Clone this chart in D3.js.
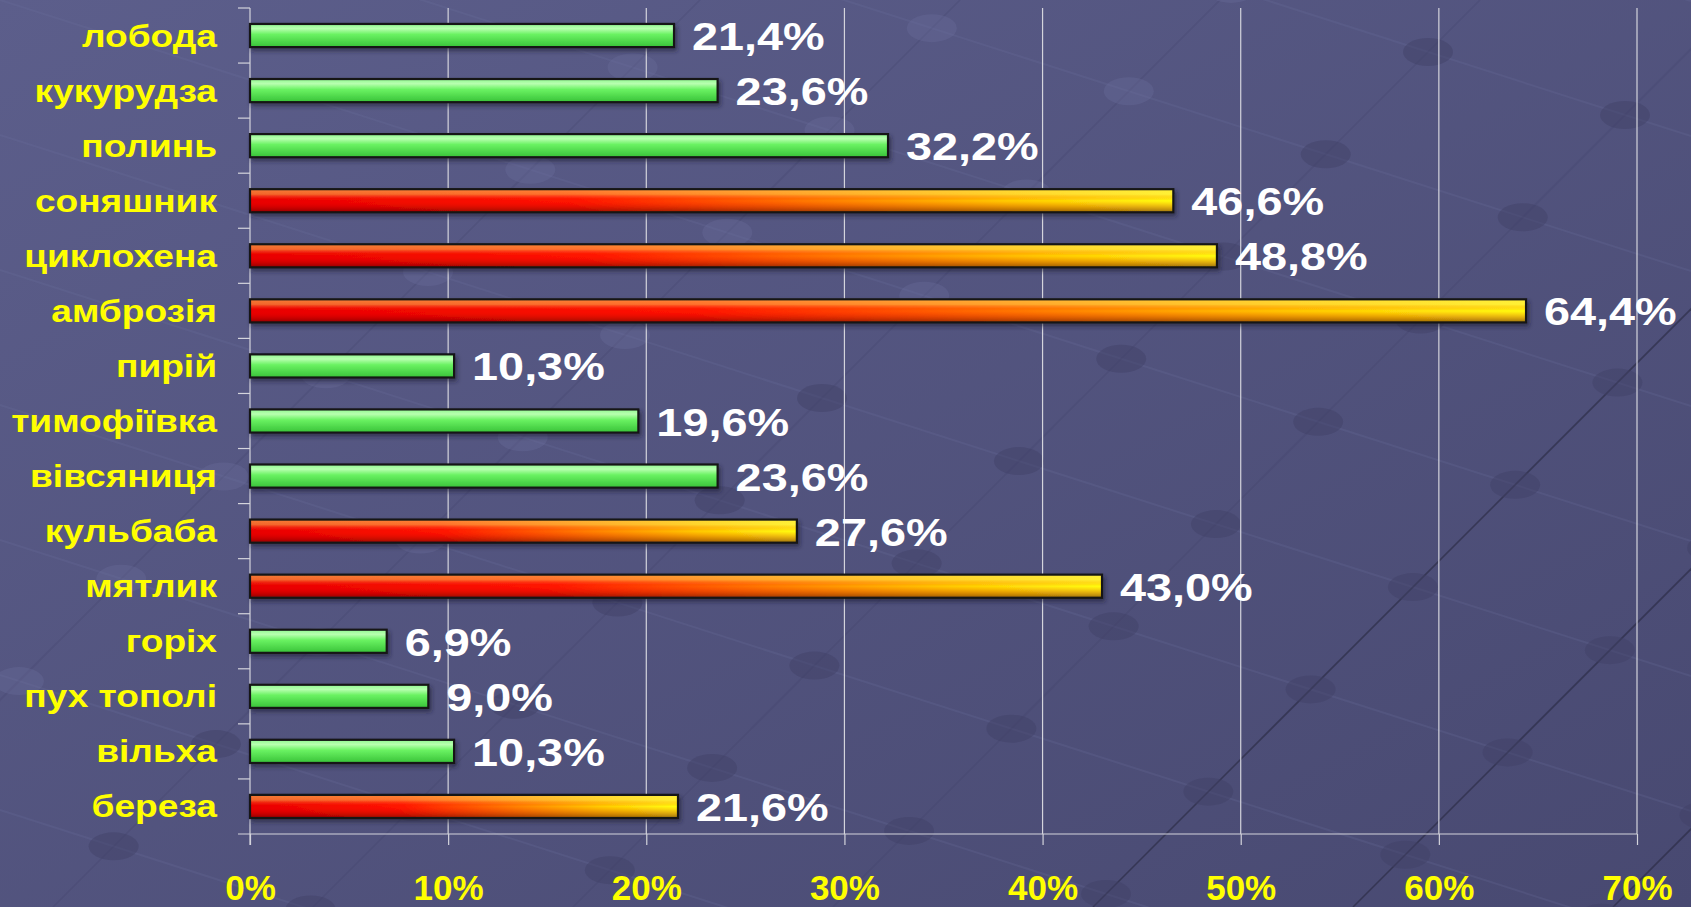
<!DOCTYPE html>
<html>
<head>
<meta charset="utf-8">
<script src="https://cdn.jsdelivr.net/npm/d3@7"></script>
<style>
	html, body { margin: 0; padding: 0; overflow: hidden; background: #55577f; }
	svg { display: block; }
</style>
</head>
<body>
<script>
"use strict";

// chart data, read from top to bottom
var categories = ["лобода", "кукурудза", "полинь", "соняшник", "циклохена", "амброзія", "пирій",
	"тимофіївка", "вівсяниця", "кульбаба", "мятлик", "горіх", "пух тополі", "вільха", "береза"];
var values = [21.4, 23.6, 32.2, 46.6, 48.8, 64.4, 10.3, 19.6, 23.6, 27.6, 43.0, 6.9, 9.0, 10.3, 21.6];
// "hot" bars are drawn red-to-yellow, the rest green
var hot = [false, false, false, true, true, true, false, false, false, true, true, false, false, false, true];
var xTicks = [0, 10, 20, 30, 40, 50, 60, 70];

var W = 1691, H = 907;
var svg = d3.select("body").append("svg")
	.attr("width", W)
	.attr("height", H)
	.style("font-family", "'Liberation Sans', Arial, sans-serif");

var defs = svg.append("defs");

// background
var bg = defs.append("linearGradient").attr("id", "bg")
	.attr("x1", 0).attr("y1", 0).attr("x2", 1).attr("y2", 1);
bg.append("stop").attr("offset", 0).attr("stop-color", "#5c5e8b");
bg.append("stop").attr("offset", 1).attr("stop-color", "#484971");

var green = defs.append("linearGradient").attr("id", "green")
	.attr("x1", 0).attr("y1", 0).attr("x2", 0).attr("y2", 1);
green.append("stop").attr("offset", 0).attr("stop-color", "#90f890");
green.append("stop").attr("offset", 0.2).attr("stop-color", "#b8ffb0");
green.append("stop").attr("offset", 0.45).attr("stop-color", "#6af262");
green.append("stop").attr("offset", 1).attr("stop-color", "#38c238");

var fire = defs.append("linearGradient").attr("id", "fire")
	.attr("x1", 0).attr("y1", 0).attr("x2", 1).attr("y2", 0);
fire.append("stop").attr("offset", 0).attr("stop-color", "#e80000");
fire.append("stop").attr("offset", 0.35).attr("stop-color", "#ff1400");
fire.append("stop").attr("offset", 0.62).attr("stop-color", "#ff8000");
fire.append("stop").attr("offset", 0.82).attr("stop-color", "#ffcc00");
fire.append("stop").attr("offset", 1).attr("stop-color", "#ffff10");

// vertical shading laid over the hot bars
var shade = defs.append("linearGradient").attr("id", "shade")
	.attr("x1", 0).attr("y1", 0).attr("x2", 0).attr("y2", 1);
shade.append("stop").attr("offset", 0).attr("stop-color", "#ffe060").attr("stop-opacity", 0.55);
shade.append("stop").attr("offset", 0.22).attr("stop-color", "#ffe060").attr("stop-opacity", 0.45);
shade.append("stop").attr("offset", 0.5).attr("stop-color", "#ff0000").attr("stop-opacity", 0);
shade.append("stop").attr("offset", 1).attr("stop-color", "#400000").attr("stop-opacity", 0.55);

var shadow = defs.append("filter").attr("id", "shadow")
	.attr("x", "-5%").attr("y", "-50%").attr("width", "110%").attr("height", "200%");
shadow.append("feDropShadow").attr("dx", 2).attr("dy", 3).attr("stdDeviation", 2)
	.attr("flood-color", "#1c1c30").attr("flood-opacity", 0.6);

svg.append("rect").attr("width", W).attr("height", H).attr("fill", "url(#bg)");

// faint network pattern of the slide template
var deco = svg.append("g");
var lightLines = d3.range(-6, 10).map(function(i) { return i * 135; });
lightLines.forEach(function(c) {
	deco.append("line")
		.attr("x1", 0).attr("y1", c)
		.attr("x2", W).attr("y2", c + W * 0.32)
		.attr("stroke", "#6e71a0").attr("stroke-opacity", 0.22).attr("stroke-width", 2);
});
var darkLines = d3.range(0, 9).map(function(i) { return 700 + i * 260; });
darkLines.forEach(function(d, i) {
	deco.append("line")
		.attr("x1", d - H * 1.0).attr("y1", H)
		.attr("x2", d).attr("y2", 0)
		.attr("stroke", i > 4 ? "#24243a" : "#3d3e62").attr("stroke-opacity", i > 4 ? 0.55 : 0.2)
		.attr("stroke-width", 1.6);
});
// knots where the lines cross
lightLines.forEach(function(c) {
	darkLines.forEach(function(d) {
		// y = c + 0.32x and y = d - x
		var kx = (d - c) / 1.32, ky = c + 0.32 * kx;
		if (kx < -40 || kx > W + 40 || ky < -40 || ky > H + 40) return;
		var t = (kx / W + ky / H) / 2;
		deco.append("ellipse")
			.attr("cx", kx).attr("cy", ky).attr("rx", 25).attr("ry", 14)
			.attr("fill", t < 0.45 ? "#6a6d9b" : "#404066")
			.attr("fill-opacity", t < 0.45 ? 0.35 : 0.45);
	});
});

// scales
var x = d3.scaleLinear().domain([0, 70]).range([250, 1637]);
var y = d3.scaleBand().domain(categories).range([8, 834])
	.paddingInner(0.58).paddingOuter(0.29);

var gridColor = "#d4d4dc";

// vertical gridlines
svg.append("g").selectAll("line")
	.data(xTicks.slice(1))
	.join("line")
	.attr("x1", function(d) { return x(d); })
	.attr("x2", function(d) { return x(d); })
	.attr("y1", 8).attr("y2", 834)
	.attr("stroke", gridColor).attr("stroke-width", 1.2);

// x axis with labels below
var xAxis = svg.append("g")
	.attr("transform", "translate(0,834)")
	.call(d3.axisBottom(x).tickValues(xTicks).tickSize(11).tickPadding(30)
		.tickFormat(function(d) { return d + "%"; }));
xAxis.select(".domain").remove();
xAxis.selectAll(".tick line").attr("stroke", gridColor).attr("stroke-width", 1.2);
xAxis.selectAll(".tick text")
	.attr("fill", "#ffff00")
	.attr("font-size", 35)
	.attr("font-weight", "bold")
	.attr("font-family", "'Liberation Sans', Arial, sans-serif");
svg.append("line")
	.attr("x1", 238).attr("x2", x(70))
	.attr("y1", 834).attr("y2", 834)
	.attr("stroke", gridColor).attr("stroke-width", 1.2);

// y axis line and tick marks between categories
var step = y.step();
svg.append("line")
	.attr("x1", x(0)).attr("x2", x(0))
	.attr("y1", 8).attr("y2", 845)
	.attr("stroke", gridColor).attr("stroke-width", 1.2);
svg.append("g").selectAll("line")
	.data(categories)
	.join("line")
	.attr("x1", 238).attr("x2", x(0))
	.attr("y1", function(d) { return y(d) + y.bandwidth() / 2 - step / 2; })
	.attr("y2", function(d) { return y(d) + y.bandwidth() / 2 - step / 2; })
	.attr("stroke", gridColor).attr("stroke-width", 1.2);

var rows = categories.map(function(c, i) {
	return {name: c, value: values[i], hot: hot[i]};
});

// bars
var bars = svg.append("g").selectAll("g")
	.data(rows)
	.join("g")
	.attr("filter", "url(#shadow)");
bars.append("rect")
	.attr("x", x(0))
	.attr("y", function(d) { return y(d.name); })
	.attr("width", function(d) { return x(d.value) - x(0); })
	.attr("height", y.bandwidth())
	.attr("fill", function(d) { return d.hot ? "url(#fire)" : "url(#green)"; });
bars.filter(function(d) { return d.hot; })
	.append("rect")
	.attr("x", x(0))
	.attr("y", function(d) { return y(d.name); })
	.attr("width", function(d) { return x(d.value) - x(0); })
	.attr("height", y.bandwidth())
	.attr("fill", "url(#shade)");
bars.append("rect")
	.attr("x", x(0))
	.attr("y", function(d) { return y(d.name); })
	.attr("width", function(d) { return x(d.value) - x(0); })
	.attr("height", y.bandwidth())
	.attr("fill", "none")
	.attr("stroke", "#161616")
	.attr("stroke-width", 2.2);

// the slide is stretched sideways, so are its texts
var stretch = 1.2;

// value labels
svg.append("g").selectAll("text")
	.data(rows)
	.join("text")
	.attr("transform", function(d) {
		return "translate(" + (x(d.value) + 18) + "," + (y(d.name) + y.bandwidth() / 2 + 14.5) + ") scale(" + stretch + ",1)";
	})
	.attr("fill", "#ffffff")
	.attr("font-size", 39)
	.attr("font-weight", "bold")
	.text(function(d) { return d.value.toFixed(1).replace(".", ",") + "%"; });

// category labels
svg.append("g").selectAll("text")
	.data(categories)
	.join("text")
	.attr("transform", function(d) {
		return "translate(217," + (y(d) + y.bandwidth() / 2 + 11) + ") scale(1.16,1)";
	})
	.attr("text-anchor", "end")
	.attr("fill", "#ffff00")
	.attr("font-size", 32)
	.attr("font-weight", "bold")
	.text(function(d) { return d; });
</script>
</body>
</html>
